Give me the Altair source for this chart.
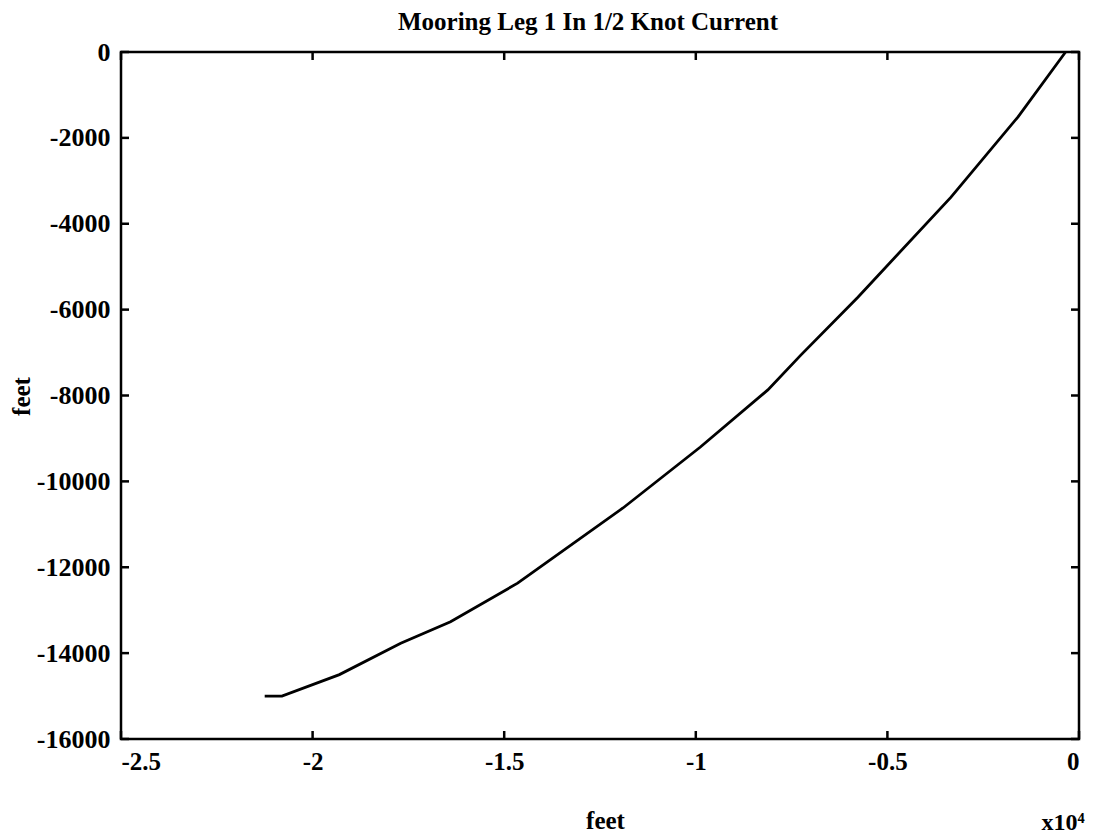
import altair as alt
import pandas as pd

# Mooring leg profile (feet)
x_feet = [-21250, -20800, -19300, -17700, -16400, -14650, -13800, -11900,
          -9880, -8120, -7260, -5770, -3340, -1590, -350]
y_feet = [-15000, -15000, -14500, -13770, -13270, -12370, -11830, -10620,
          -9200, -7870, -7060, -5710, -3380, -1510, 0]
x_ticks = [-25000, -20000, -15000, -10000, -5000, 0]
y_ticks = [-16000, -14000, -12000, -10000, -8000, -6000, -4000, -2000, 0]

title_text = "Mooring Leg 1 In 1/2 Knot Current"
x_title = "feet"
y_title = "feet"
x_multiplier = "x10⁴"

W, H = 958, 687
FONT = "Liberation Serif"
TICK = 8

curve = pd.DataFrame({"x": x_feet, "y": y_feet, "i": list(range(len(x_feet)))})
xt = pd.DataFrame({"x": x_ticks})
yt = pd.DataFrame({"y": y_ticks})
note = pd.DataFrame({"t": [x_multiplier]})
head = pd.DataFrame({"t": [title_text]})

X = alt.X(
    "x:Q",
    scale=alt.Scale(domain=[-25000, 0], nice=False, zero=False),
    axis=alt.Axis(
        values=x_ticks, title=x_title, labelExpr="'' + (datum.value / 10000)",
        grid=False, domain=False, ticks=False, tickSize=0,
        labelFont=FONT, labelFontSize=25, labelFontWeight="bold", labelColor="black",
        labelPadding=10,
        titleFont=FONT, titleFontSize=25, titleFontWeight="bold", titleColor="black",
        titleX=484, titleY=81, titleBaseline="middle", titleAlign="center",
    ),
)
Y = alt.Y(
    "y:Q",
    scale=alt.Scale(domain=[-16000, 0], nice=False, zero=False),
    axis=alt.Axis(
        values=y_ticks, title=y_title, labelExpr="'' + datum.value",
        grid=False, domain=False, ticks=False, tickSize=0,
        labelFont=FONT, labelFontSize=26, labelFontWeight="bold", labelColor="black",
        labelPadding=11, labelBaseline="middle",
        titleFont=FONT, titleFontSize=25, titleFontWeight="bold", titleColor="black",
        titleX=-100, titleY=344, titleAngle=270, titleBaseline="middle", titleAlign="center",
    ),
)

line = alt.Chart(curve).mark_line(color="black", strokeWidth=2.8).encode(
    x=X, y=Y, order="i:Q"
)

rule_kw = dict(color="black", strokeWidth=2.5)
tick_bottom = alt.Chart(xt).mark_rule(**rule_kw).encode(
    x=X, y=alt.value(H), y2=alt.value(H - TICK))
tick_top = alt.Chart(xt).mark_rule(**rule_kw).encode(
    x=X, y=alt.value(0), y2=alt.value(TICK))
tick_left = alt.Chart(yt).mark_rule(**rule_kw).encode(
    y=Y, x=alt.value(0), x2=alt.value(TICK))
tick_right = alt.Chart(yt).mark_rule(**rule_kw).encode(
    y=Y, x=alt.value(W - TICK), x2=alt.value(W))

mult = alt.Chart(note).mark_text(
    font=FONT, fontSize=24, fontWeight="bold", color="black",
    align="center", baseline="middle",
).encode(text="t:N", x=alt.value(942), y=alt.value(771))

title_mark = alt.Chart(head).mark_text(
    font=FONT, fontSize=25, fontWeight="bold", color="black",
    align="center", baseline="alphabetic",
).encode(text="t:N", x=alt.value(467), y=alt.value(-22))

chart = alt.layer(line, tick_bottom, tick_top, tick_left, tick_right, mult, title_mark).properties(
    width=W, height=H,
    autosize=alt.AutoSizeParams(type="none"),
    padding={"left": 113, "top": 44, "right": 15, "bottom": 100},
    background="white",
).configure_view(stroke="black", strokeWidth=2.5)

chart.save("out.html", embed_options={"renderer": "svg", "actions": False})
